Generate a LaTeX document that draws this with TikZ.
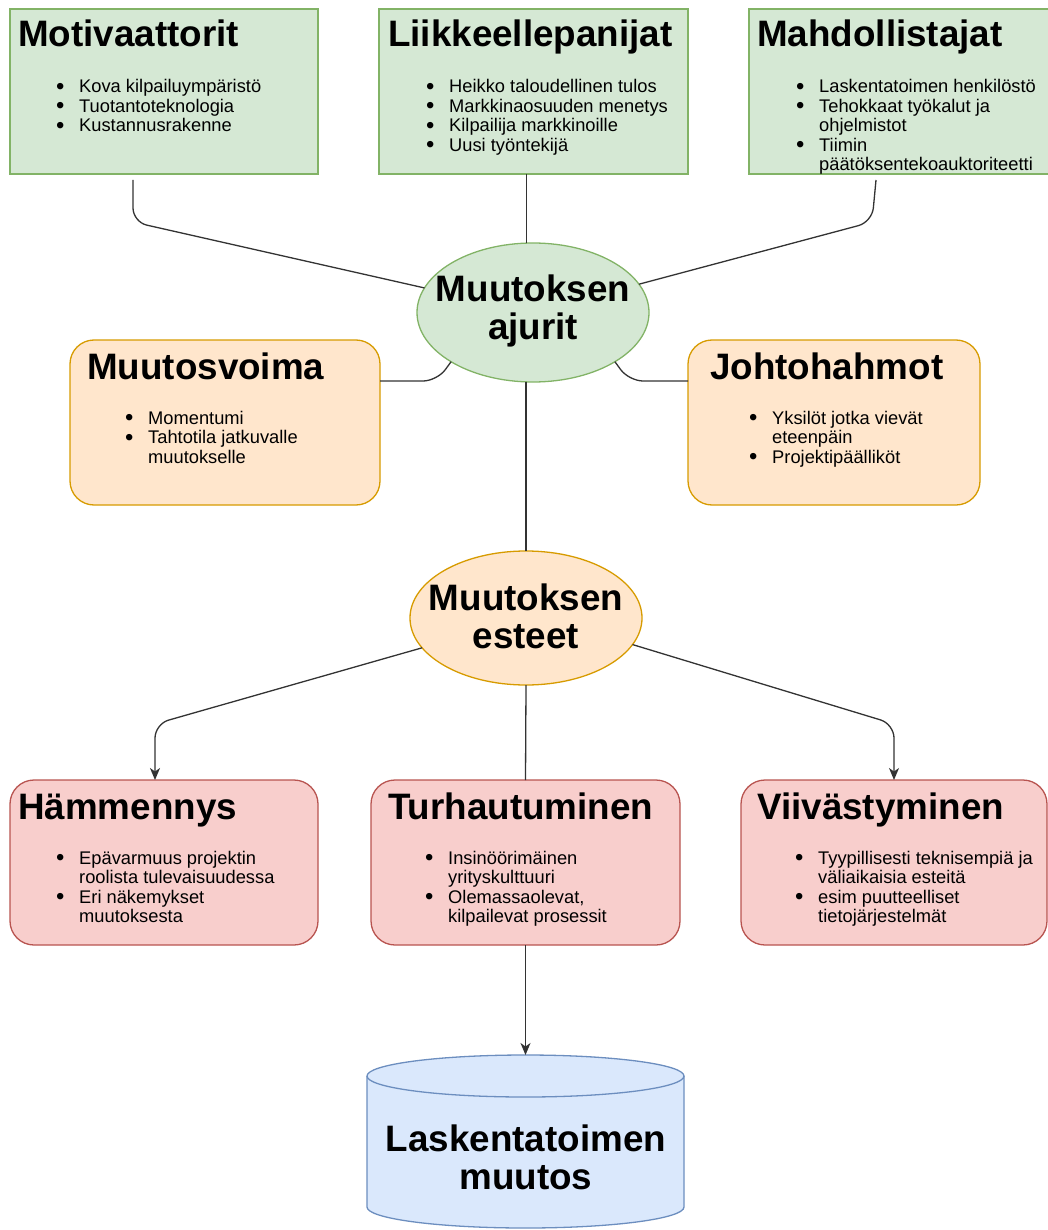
\documentclass[tikz,border=0pt]{standalone}
\usepackage{fontspec}
\setmainfont{Liberation Sans}
\usetikzlibrary{shapes.geometric,arrows.meta}

\definecolor{gfill}{HTML}{D5E8D4}
\definecolor{gline}{HTML}{82B366}
\definecolor{ofill}{HTML}{FFE6CC}
\definecolor{oline}{HTML}{D79B00}
\definecolor{rfill}{HTML}{F8CECC}
\definecolor{rline}{HTML}{B85450}
\definecolor{bfill}{HTML}{DAE8FC}
\definecolor{bline}{HTML}{6C8EBF}
\definecolor{wire}{HTML}{333333}

% bullet list helpers
\newcommand\bulletlist[1]{\begin{tabular}[t]{@{}l@{}}#1\end{tabular}}
\newcommand\bitem{\makebox[22pt][l]{\hspace*{-1pt}\raisebox{-1.5pt}{\scalebox{1.3}{\textbullet}}}}
\newcommand\bcont{\hspace*{22pt}}

\tikzset{
  box/.style={draw, line width=1.3pt, anchor=north west, minimum height=165pt,
    inner sep=0pt, outer sep=0pt},
  greenbox/.style={box, fill=gfill, draw=gline},
  orangebox/.style={box, fill=ofill, draw=oline, rounded corners=24pt},
  redbox/.style={box, fill=rfill, draw=rline, rounded corners=24pt},
  ttl/.style={anchor=base west, inner sep=0pt, font=\fontsize{36.8}{38}\selectfont\bfseries},
  blist/.style={anchor=base west, inner sep=0pt, font=\fontsize{18.3}{19.5}\selectfont},
  hub/.style={ellipse, draw, line width=1.3pt, inner sep=0pt, outer sep=0pt, minimum width=232pt},
  hubtext/.style={align=center, inner sep=0pt, font=\fontsize{36.8}{38}\selectfont\bfseries},
  conn/.style={draw=wire, line width=1.3pt, rounded corners=14pt},
  tip/.style={-{Stealth[length=12pt,width=10pt,inset=3.5pt]}}
}

\begin{document}
\begin{tikzpicture}[x=1pt,y=-1pt]
\useasboundingbox (0,0) rectangle (1048,1230);
\clip (0,0) rectangle (1048,1230);

% ---- drivers (top row) ----
\node[greenbox, minimum width=308pt] (mot) at (10,9) {};
\node[greenbox, minimum width=309pt] (liik) at (379,9) {};
\node[greenbox, minimum width=312pt] (mahd) at (749,9) {};

\node[ttl] (mot-t) at (18,47) {Motivaattorit};
\node[ttl] (liik-t) at (388,47) {Liikkeellepanijat};
\node[ttl] (mahd-t) at (757,47) {Mahdollistajat};

\node[blist] (mot-l) at (57,93) {\bulletlist{%
  \bitem Kova kilpailuympäristö\\
  \bitem Tuotantoteknologia\\
  \bitem Kustannusrakenne}};
\node[blist] (liik-l) at (427,93) {\bulletlist{%
  \bitem Heikko taloudellinen tulos\\
  \bitem Markkinaosuuden menetys\\
  \bitem Kilpailija markkinoille\\
  \bitem Uusi työntekijä}};
\node[blist] (mahd-l) at (797,93) {\bulletlist{%
  \bitem Laskentatoimen henkilöstö\\
  \bitem Tehokkaat työkalut ja\\
  \bcont ohjelmistot\\
  \bitem Tiimin\\
  \bcont päätöksentekoauktoriteetti}};

% ---- central hub ----
\node[hub, fill=gfill, draw=gline, minimum height=139pt] (ajurit) at (533,312.5) {};
\node[hubtext] (ajurit-t) at (533,311) {Muutoksen\\ajurit};

% ---- side boxes ----
\node[orangebox, minimum width=310pt] (mv) at (70,340) {};
\node[orangebox, minimum width=292pt] (jh) at (688,340) {};

\node[ttl] (mv-t) at (87,379) {Muutosvoima};
\node[ttl] (jh-t) at (710,379) {Johtohahmot};

\node[blist] (mv-l) at (126,424) {\bulletlist{%
  \bitem Momentumi\\
  \bitem Tahtotila jatkuvalle\\
  \bcont muutokselle}};
\node[blist] (jh-l) at (750,424) {\bulletlist{%
  \bitem Yksilöt jotka vievät\\
  \bcont eteenpäin\\
  \bitem Projektipäälliköt}};

% ---- barriers hub ----
\node[hub, fill=ofill, draw=oline, minimum height=134pt] (esteet) at (526,618) {};
\node[hubtext] (esteet-t) at (526,616) {Muutoksen\\esteet};

% ---- barriers (bottom row) ----
\node[redbox, minimum width=308pt] (ham) at (10,780) {};
\node[redbox, minimum width=309pt] (turh) at (371,780) {};
\node[redbox, minimum width=306pt] (viiv) at (741,780) {};

\node[ttl] (ham-t) at (18,819) {Hämmennys};
\node[ttl] (turh-t) at (388,819) {Turhautuminen};
\node[ttl] (viiv-t) at (757,819) {Viivästyminen};

\node[blist] (ham-l) at (57,864) {\bulletlist{%
  \bitem Epävarmuus projektin\\
  \bcont roolista tulevaisuudessa\\
  \bitem Eri näkemykset\\
  \bcont muutoksesta}};
\node[blist] (turh-l) at (426,864) {\bulletlist{%
  \bitem Insinöörimäinen\\
  \bcont yrityskulttuuri\\
  \bitem Olemassaolevat,\\
  \bcont kilpailevat prosessit}};
\node[blist] (viiv-l) at (796,864) {\bulletlist{%
  \bitem Tyypillisesti teknisempiä ja\\
  \bcont väliaikaisia esteitä\\
  \bitem esim puutteelliset\\
  \bcont tietojärjestelmät}};

% ---- outcome cylinder ----
\draw[fill=bfill, draw=bline, line width=1.3pt]
  (367,1076) -- (367,1207)
  arc[start angle=180, end angle=360, x radius=158.5pt, y radius=21pt]
  -- (684,1076)
  arc[start angle=0, end angle=180, x radius=158.5pt, y radius=21pt] -- cycle;
\draw[draw=bline, line width=1.3pt]
  (367,1076) arc[start angle=180, end angle=360, x radius=158.5pt, y radius=21pt];
\coordinate (cyltop) at (525.5,1055);
\node[hubtext] (lask-t) at (526,1157) {Laskentatoimen\\muutos};

% ---- connectors ----
\coordinate (liikout) at ([xshift=-7pt]liik.south);
\draw[conn] ([xshift=-31pt,yshift=-6pt]mot.south) -- ++(0,42) -- (ajurit);
\draw[conn] (liikout) -- (liikout |- ajurit.north);
\draw[conn] ([xshift=-29pt,yshift=-6pt]mahd.south) -- ++(-4,42) -- (ajurit);

\draw[conn] (ajurit.211) -- (437,381) -- ([yshift=41.5pt]mv.east);
\draw[conn] (ajurit.329) -- (629,381) -- ([yshift=41.5pt]jh.west);

\draw[conn] (esteet.north |- ajurit.south) -- (esteet.north);

\draw[conn, tip] (esteet.196) -- (155,724) -- ([xshift=-9pt]ham.north);
\draw[conn, tip] (esteet.346) -- (894,724) -- (viiv.north);
\draw[conn] (esteet.south) -- (turh.north);
\draw[conn, tip] (turh.south) -- (cyltop);

\end{tikzpicture}
\end{document}
